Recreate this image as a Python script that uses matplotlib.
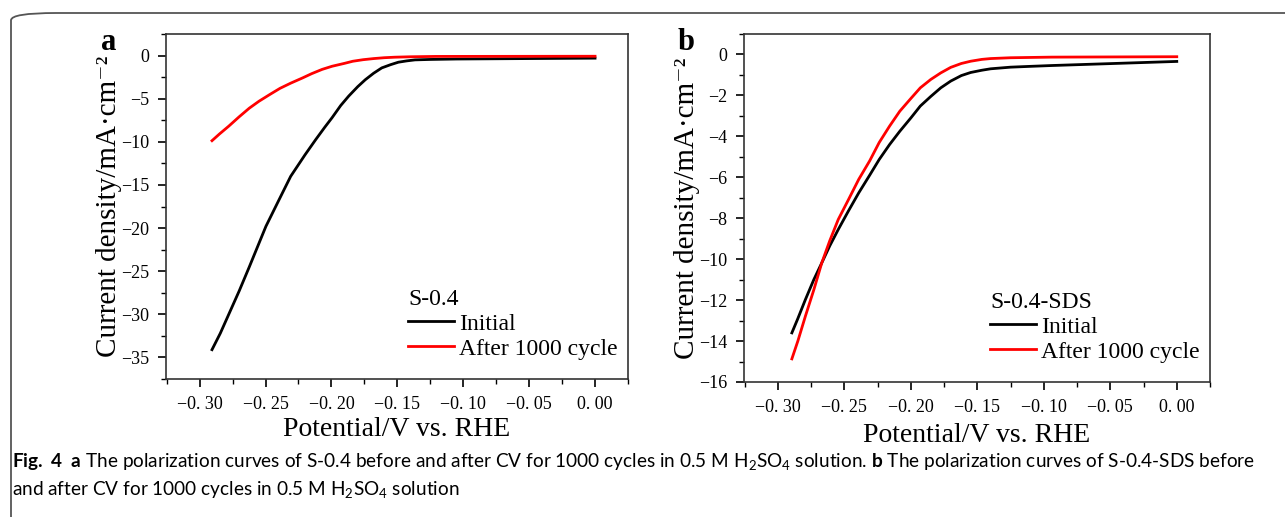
import matplotlib
matplotlib.use('Agg')
import matplotlib.pyplot as plt
from matplotlib.patches import FancyBboxPatch
from matplotlib.ticker import MultipleLocator, FuncFormatter

plt.rcParams['font.family'] = ['Liberation Serif', 'DejaVu Serif']
# 图注用 mathtext 下标
plt.rcParams['mathtext.fontset'] = 'custom'
plt.rcParams['mathtext.rm'] = 'Lato'
plt.rcParams['mathtext.bf'] = 'Lato:bold'
plt.rcParams['mathtext.it'] = 'Lato:italic'

# 数据
xa_init = [-0.2906, -0.2843, -0.27, -0.2623, -0.2497, -0.24, -0.2309, -0.22, -0.212,
           -0.205, -0.1995, -0.193, -0.1869, -0.18, -0.1743, -0.168, -0.1618, -0.155,
           -0.1492, -0.143, -0.1366, -0.125, -0.105, 0.0]
ya_init = [-34.1, -32.2, -27.3, -24.5, -19.8, -16.8, -14.0, -11.5, -9.76,
           -8.3, -7.2, -5.8, -4.7, -3.6, -2.8, -2.05, -1.43, -1.05,
           -0.77, -0.62, -0.5, -0.45, -0.4, -0.3]
xa_after = [-0.2906, -0.285, -0.278, -0.27, -0.2623, -0.255, -0.2466, -0.239, -0.2309,
            -0.222, -0.215, -0.207, -0.1995, -0.19, -0.1838, -0.176, -0.168, -0.16,
            -0.152, -0.14, -0.121, 0.0]
ya_after = [-9.87, -9.1, -8.2, -7.1, -6.1, -5.3, -4.5, -3.8, -3.2,
            -2.6, -2.1, -1.6, -1.24, -0.9, -0.66, -0.48, -0.35, -0.25,
            -0.19, -0.14, -0.1, -0.08]

xb_init = [-0.2895, -0.285, -0.2793, -0.273, -0.267, -0.261, -0.2546, -0.247, -0.2392,
           -0.231, -0.2238, -0.216, -0.2083, -0.2, -0.1929, -0.185, -0.1775, -0.17,
           -0.162, -0.155, -0.1466, -0.14, -0.125, -0.11, -0.0941, 0.0]
yb_init = [-13.6, -12.9, -11.97, -11.0, -10.18, -9.35, -8.55, -7.65, -6.76,
           -5.9, -5.13, -4.4, -3.75, -3.1, -2.52, -2.05, -1.63, -1.3,
           -1.03, -0.88, -0.77, -0.7, -0.62, -0.58, -0.54, -0.34]
xb_after = [-0.2895, -0.285, -0.2793, -0.273, -0.267, -0.261, -0.2546, -0.247, -0.2392,
            -0.231, -0.2238, -0.216, -0.2083, -0.2, -0.1929, -0.185, -0.1775, -0.17,
            -0.162, -0.155, -0.1466, -0.14, -0.125, -0.0941, 0.0]
yb_after = [-14.87, -14.0, -12.78, -11.5, -10.18, -9.1, -8.06, -7.1, -6.1,
            -5.2, -4.3, -3.5, -2.77, -2.15, -1.63, -1.22, -0.9, -0.63,
            -0.44, -0.33, -0.24, -0.2, -0.16, -0.13, -0.11]

labels = ['Initial', 'After 1000 cycle']
titles = ['S-0.4', 'S-0.4-SDS']

fig = plt.figure(figsize=(12.85, 5.17), dpi=100)

# 外框 (圆角, 只露出上边和左边)
frame = FancyBboxPatch((11 / 1285, -0.2), 1.2, 1.2 - 13 / 517,
                       boxstyle='round,pad=0,rounding_size=0.035',
                       transform=fig.transFigure, fill=False,
                       edgecolor='#555555', linewidth=1.3, clip_on=False,
                       mutation_aspect=517 / 1285)
fig.patches.append(frame)

ax_a = fig.add_axes([166 / 1285, 1 - 379 / 517, (628 - 166) / 1285, (379 - 34) / 517])
ax_b = fig.add_axes([744 / 1285, 1 - 382 / 517, (1210 - 744) / 1285, (382 - 34) / 517])


def xfmt(v, pos):
    if abs(v) < 1e-9:
        return '0. 00'
    return '\u22120. %02d' % round(abs(v) * 100)


def yfmt(v, pos):
    if abs(v) < 1e-9:
        return '0'
    return '\u2212%d' % round(abs(v))


for ax, data, ylim, ymaj, ymin, ttl, lp in [
        (ax_a, [(xa_init, ya_init), (xa_after, ya_after)], (-37.5, 2.5), 5, 2.5, titles[0], 3),
        (ax_b, [(xb_init, yb_init), (xb_after, yb_after)], (-16, 1.0), 2, 1, titles[1], 5)]:
    cols = ['black', 'red']
    for (x, y), c, lab in zip(data, cols, labels):
        ax.plot(x, y, color=c, lw=2, label=lab)
    ax.set_xlim(-0.3255, 0.025)
    ax.set_ylim(*ylim)
    ax.xaxis.set_major_locator(MultipleLocator(0.05))
    ax.xaxis.set_minor_locator(MultipleLocator(0.025))
    ax.yaxis.set_major_locator(MultipleLocator(ymaj))
    ax.yaxis.set_minor_locator(MultipleLocator(ymin))
    ax.xaxis.set_major_formatter(FuncFormatter(xfmt))
    ax.yaxis.set_major_formatter(FuncFormatter(yfmt))
    ax.tick_params(which='major', length=6, width=1.2, labelsize=13, pad=6)
    ax.tick_params(which='minor', length=3.5, width=1.0)
    for s in ax.spines.values():
        s.set_linewidth(1.2)
        s.set_color('#333333')
    ax.set_xlabel('Potential/V vs. RHE', fontsize=20, labelpad=lp)
    ax.set_ylabel('Current density/mA\u00b7cm\u207b\u00b2', fontsize=21, labelpad=-1)
    leg = ax.legend(title=ttl, loc='lower right', frameon=False, fontsize=17,
                    title_fontsize=17, handlelength=1.95, handletextpad=0.2,
                    labelspacing=0.15, borderaxespad=0.05, bbox_to_anchor=(1.0, 0.025))
    leg._legend_box.align = 'left'

fig.text(101 / 1285, 1 - 43 / 517, 'a', fontsize=22, fontweight='bold', va='center')
fig.text(678 / 1285, 1 - 43 / 517, 'b', fontsize=22, fontweight='bold', va='center')

# 图注
cap_font = ['Lato', 'DejaVu Sans']
fig.text(12 / 1285, 1 - 462 / 517,
         r'$\mathbf{Fig.\ 4}$  $\mathbf{a}$ The polarization curves of S-0.4 before and after CV for 1000 cycles in 0.5 M H$_2$SO$_4$ solution. $\mathbf{b}$ The polarization curves of S-0.4-SDS before',
         fontsize=13.7, family=cap_font, va='center')
fig.text(12 / 1285, 1 - 490 / 517,
         r'and after CV for 1000 cycles in 0.5 M H$_2$SO$_4$ solution',
         fontsize=13.7, family=cap_font, va='center')

fig.savefig('out.png', dpi=100)
